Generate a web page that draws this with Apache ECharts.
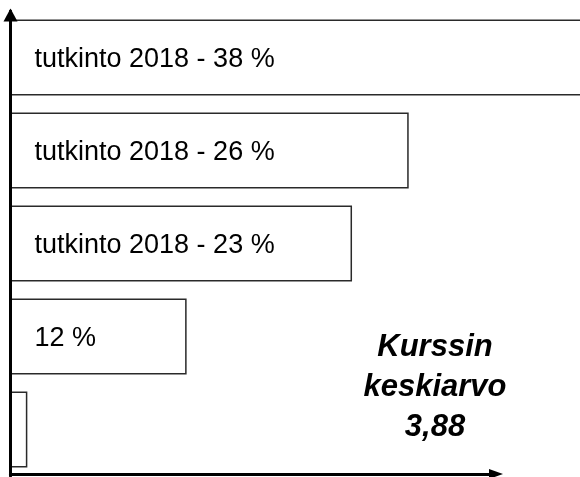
<!DOCTYPE html>
<html>
<head>
<meta charset="utf-8">
<script src="https://cdn.jsdelivr.net/npm/echarts@6/dist/echarts.min.js"></script>
<style>
  html, body { margin: 0; padding: 0; background: #fff; }
  #chart { width: 580px; height: 477px; }
</style>
</head>
<body>
<div id="chart"></div>
<script>
// top to bottom, as in the picture
const categories = ['r1', 'r2', 'r3', 'r4', 'r5']
const values = [38, 26, 22.3, 11.5, 1.1]
const barLabels = ['tutkinto 2018 - 38 %', 'tutkinto 2018 - 26 %', 'tutkinto 2018 - 23 %', '12 %', '']
const noteText = 'Kurssin\nkeskiarvo\n3,88'

const chart = echarts.init(document.getElementById('chart'))

// category axis runs bottom-up, so flip the arrays
const cats = categories.slice().reverse()
const vals = values.slice().reverse()
const labs = barLabels.slice().reverse()

chart.setOption({
    animation: false,
    grid: {
        left: 10.5,
        right: 84,
        top: 11,
        bottom: 1,
        containLabel: false
    },
    xAxis: {
        type: 'value',
        min: 0,
        max: 31.7,
        offset: -2,
        z: 10,
        splitLine: { show: false },
        axisTick: { show: false },
        axisLabel: { show: false },
        axisLine: {
            show: true,
            symbol: ['none', 'triangle'],
            symbolSize: [10, 14],
            symbolOffset: [0, 0],
            lineStyle: { color: '#000', width: 3 }
        }
    },
    yAxis: {
        type: 'category',
        data: cats,
        z: 10,
        axisTick: { show: false },
        axisLabel: { show: false },
        axisLine: {
            show: true,
            symbol: ['none', 'triangle'],
            symbolSize: [14, 13],
            symbolOffset: [0, -4],
            lineStyle: { color: '#000', width: 3 }
        }
    },
    series: [
        {
            type: 'bar',
            data: vals,
            barWidth: 76,
            clip: false,
            itemStyle: {
                color: '#fff',
                borderColor: '#2a2a2a',
                borderWidth: 1.5
            },
            label: {
                show: true,
                position: 'insideLeft',
                distance: 24,
                offset: [0, 2],
                formatter: (p) => labs[p.dataIndex],
                fontFamily: 'Liberation Sans, Arial, sans-serif',
                fontSize: 27,
                color: '#000'
            }
        }
    ],
    graphic: [
        {
            type: 'text',
            x: 435,
            y: 327,
            style: {
                text: noteText,
                textAlign: 'center',
                fontFamily: 'Liberation Sans, Arial, sans-serif',
                fontSize: 31,
                fontWeight: 'bold',
                fontStyle: 'italic',
                lineHeight: 40,
                fill: '#000'
            }
        }
    ]
})
</script>
</body>
</html>
